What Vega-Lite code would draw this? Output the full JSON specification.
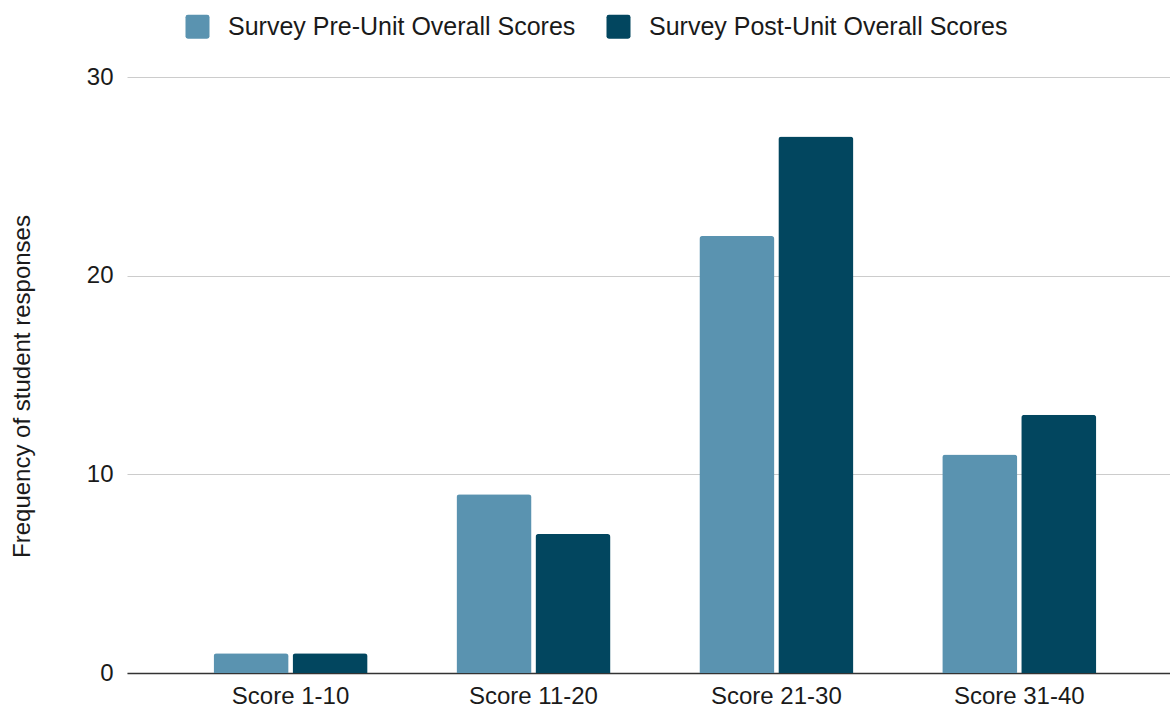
{
  "$schema": "https://vega.github.io/schema/vega-lite/v6.json",
  "width": 1043,
  "height": 596,
  "autosize": {"type": "none"},
  "padding": {"left": 127, "top": 77, "right": 0, "bottom": 38},
  "background": "white",
  "config": {
    "font": "Liberation Sans",
    "view": {"stroke": null}
  },
  "data": {
    "values": [
      {"range": "Score 1-10", "series": "Survey Pre-Unit Overall Scores", "count": 1},
      {"range": "Score 1-10", "series": "Survey Post-Unit Overall Scores", "count": 1},
      {"range": "Score 11-20", "series": "Survey Pre-Unit Overall Scores", "count": 9},
      {"range": "Score 11-20", "series": "Survey Post-Unit Overall Scores", "count": 7},
      {"range": "Score 21-30", "series": "Survey Pre-Unit Overall Scores", "count": 22},
      {"range": "Score 21-30", "series": "Survey Post-Unit Overall Scores", "count": 27},
      {"range": "Score 31-40", "series": "Survey Pre-Unit Overall Scores", "count": 11},
      {"range": "Score 31-40", "series": "Survey Post-Unit Overall Scores", "count": 13}
    ]
  },
  "mark": {"type": "bar", "cornerRadiusTopLeft": 3, "cornerRadiusTopRight": 3},
  "encoding": {
    "x": {
      "field": "range",
      "type": "nominal",
      "sort": null,
      "scale": {"paddingInner": 0.366, "paddingOuter": 0.33, "align": 0.54},
      "axis": {
        "title": null,
        "labelAngle": 0,
        "labelFontSize": 24,
        "labelColor": "#1a1a1a",
        "labelPadding": 11,
        "ticks": false,
        "domainColor": "#333333",
        "domainWidth": 1.5,
        "grid": false
      }
    },
    "xOffset": {
      "field": "series",
      "type": "nominal",
      "sort": ["Survey Pre-Unit Overall Scores", "Survey Post-Unit Overall Scores"],
      "scale": {"paddingInner": 0.05, "paddingOuter": 0}
    },
    "y": {
      "field": "count",
      "type": "quantitative",
      "scale": {"domain": [0, 30], "nice": false},
      "axis": {
        "title": "Frequency of student responses",
        "titleFontSize": 24,
        "titleFontWeight": "normal",
        "titleColor": "#1a1a1a",
        "titlePadding": 52,
        "titleY": 309,
        "values": [0, 10, 20, 30],
        "labelFontSize": 24,
        "labelColor": "#1a1a1a",
        "labelPadding": 14,
        "ticks": false,
        "domain": false,
        "gridColor": "#cccccc",
        "gridWidth": 1
      }
    },
    "color": {
      "field": "series",
      "type": "nominal",
      "sort": ["Survey Pre-Unit Overall Scores", "Survey Post-Unit Overall Scores"],
      "scale": {"range": ["#5a93b0", "#02465f"]},
      "legend": {
        "title": null,
        "orient": "none",
        "direction": "horizontal",
        "legendX": 58,
        "legendY": -63,
        "symbolType": "M-0.8,-1L0.8,-1Q1,-1 1,-0.8L1,0.8Q1,1 0.8,1L-0.8,1Q-1,1 -1,0.8L-1,-0.8Q-1,-1 -0.8,-1Z",
        "symbolSize": 576,
        "symbolStrokeWidth": 0,
        "labelFontSize": 25,
        "labelLimit": 0,
        "labelColor": "#1a1a1a",
        "labelOffset": 18,
        "columnPadding": 30,
        "symbolOpacity": 1
      }
    }
  }
}
